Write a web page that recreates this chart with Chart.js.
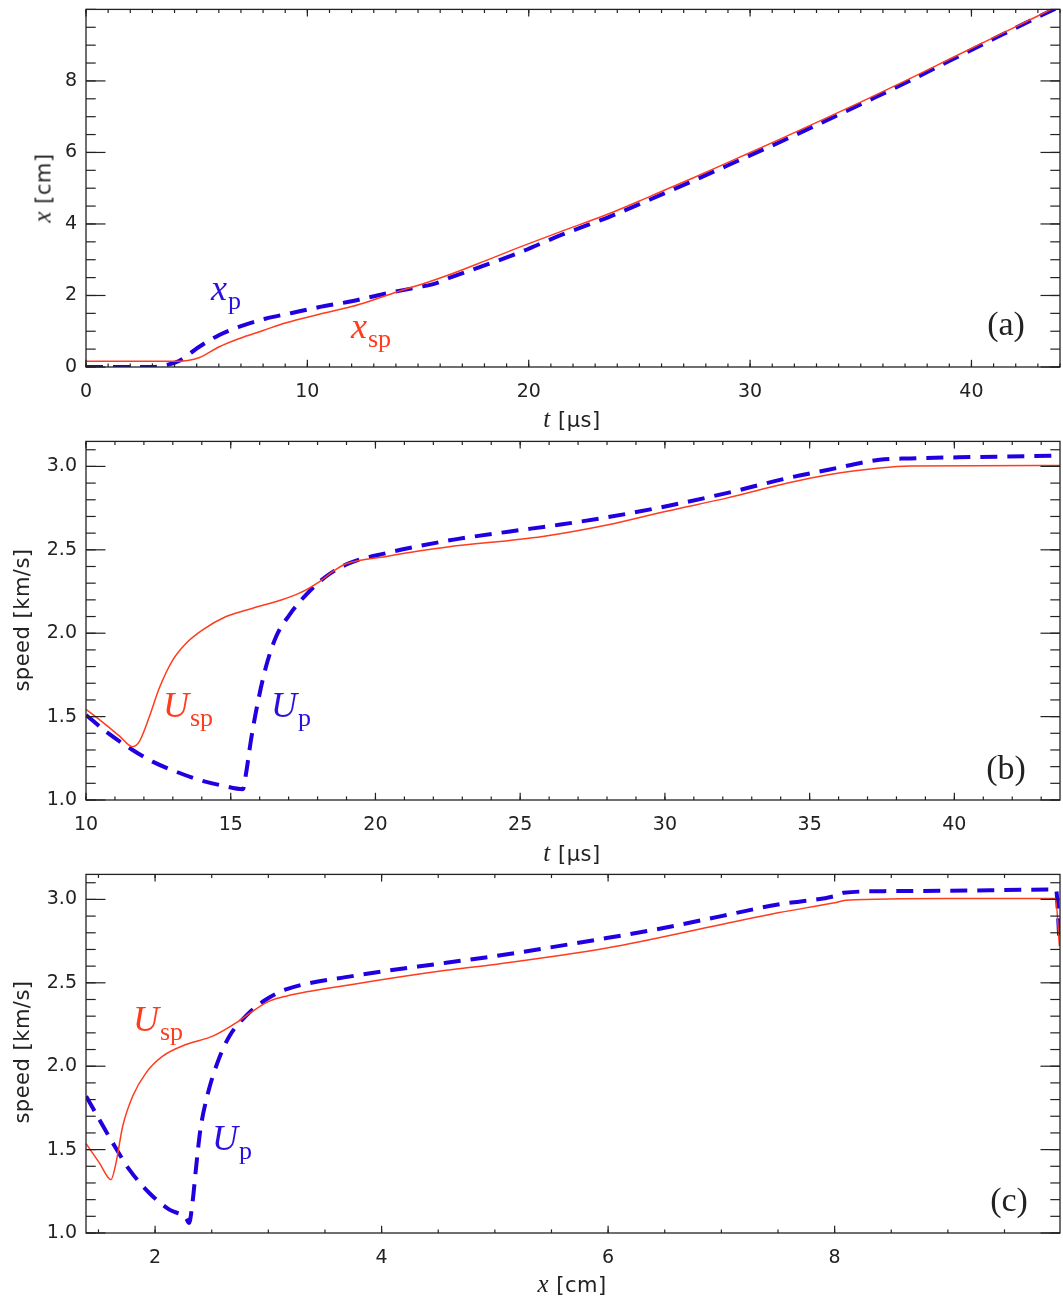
<!DOCTYPE html>
<html><head><meta charset="utf-8">
<script src="https://cdn.jsdelivr.net/npm/chart.js@4/dist/chart.umd.min.js"></script>
<style>
body{margin:0;background:#fff;}
#wrap{position:relative;width:1063px;height:1298px;overflow:hidden;background:#fff;}
canvas{position:absolute;left:0;}
.lab{position:absolute;white-space:nowrap;line-height:1;}
.ann{font-family:"Liberation Serif",serif;font-size:36px;}
.ann i{font-style:italic;}
.ann sub{font-size:26px;font-style:normal;vertical-align:baseline;position:relative;top:9px;margin-left:1px;}
.ttl{font-family:"DejaVu Sans",sans-serif;font-size:21px;letter-spacing:0.5px;color:#222;transform:translate(-50%,-50%);}
.ttl i{font-family:"Liberation Serif",serif;font-size:25px;}
.rot{transform:translate(-50%,-50%) rotate(-90deg);}
.pan{font-family:"Liberation Serif",serif;font-size:34px;color:#222;transform:translate(-50%,-50%);}
</style></head>
<body><div id="wrap">
<canvas id="ca" width="1063" height="443" style="top:-11px"></canvas>
<canvas id="cb" width="1063" height="444" style="top:421px"></canvas>
<canvas id="cc" width="1063" height="444" style="top:854px"></canvas>

<div class="lab ttl" style="left:572px;top:418px"><i>t</i> [μs]</div>
<div class="lab ttl" style="left:572px;top:852px"><i>t</i> [μs]</div>
<div class="lab ttl" style="left:572px;top:1283px"><i>x</i> [cm]</div>
<div class="lab ttl rot" style="left:42px;top:188px"><i>x</i> [cm]</div>
<div class="lab ttl rot" style="left:22px;top:620px">speed [km/s]</div>
<div class="lab ttl rot" style="left:22px;top:1052px">speed [km/s]</div>

<div class="lab pan" style="left:1006px;top:324px">(a)</div>
<div class="lab pan" style="left:1006px;top:768px">(b)</div>
<div class="lab pan" style="left:1009px;top:1200px">(c)</div>

<div class="lab ann" style="left:211px;top:270px;color:#2a10e0"><i>x</i><sub>p</sub></div>
<div class="lab ann" style="left:351px;top:308px;color:#ff3c1e"><i>x</i><sub>sp</sub></div>
<div class="lab ann" style="left:163px;top:687px;color:#ff3c1e"><i>U</i><sub>sp</sub></div>
<div class="lab ann" style="left:271px;top:687px;color:#2a10e0"><i>U</i><sub>p</sub></div>
<div class="lab ann" style="left:133px;top:1001px;color:#ff3c1e"><i>U</i><sub>sp</sub></div>
<div class="lab ann" style="left:212px;top:1120px;color:#2a10e0"><i>U</i><sub>p</sub></div>
</div>
<script>
// ---------- Panel (a): position vs time ----------
const tA_sp = [0, 4.2, 4.6, 5.1, 6.0, 6.9, 8.0, 9.0, 10.5, 12.0, 12.9, 14.0, 15.3, 16.5, 18.0, 19.5, 21.5, 23.56, 25.51, 27.47, 29.43, 31.38, 33.33, 35.21, 37.17, 39.04, 40.92, 42.88, 44.0];
const xA_sp = [0.16, 0.16, 0.18, 0.26, 0.56, 0.79, 1.02, 1.23, 1.47, 1.69, 1.86, 2.09, 2.34, 2.60, 2.96, 3.33, 3.80, 4.27, 4.78, 5.30, 5.84, 6.38, 6.93, 7.47, 8.05, 8.62, 9.19, 9.78, 10.12];
const tA_p = [0, 3.0, 3.6, 4.2, 5.1, 6.0, 6.9, 8.1, 9.3, 10.5, 12.0, 13.5, 15.0, 15.8, 16.5, 18.0, 19.5, 21.5, 23.56, 25.51, 27.47, 29.43, 31.38, 33.33, 35.21, 37.17, 39.04, 40.92, 42.88, 44.0];
const xA_p = [0, 0, 0.05, 0.17, 0.56, 0.89, 1.12, 1.35, 1.51, 1.67, 1.84, 2.05, 2.23, 2.34, 2.51, 2.84, 3.18, 3.70, 4.18, 4.69, 5.22, 5.76, 6.30, 6.86, 7.41, 7.99, 8.57, 9.15, 9.75, 10.08];
const xTicksA = [0, 10, 20, 30, 40];
const xLabelsA = ['0', '10', '20', '30', '40'];
const yTicksA = [0, 2, 4, 6, 8];
const yLabelsA = ['0', '2', '4', '6', '8'];

// ---------- Panel (b): speed vs time ----------
const tB_sp = [10, 10.69, 11.15, 11.61, 11.84, 12.19, 12.53, 13.0, 13.46, 14.03, 14.84, 15.76, 16.68, 17.37, 18.07, 18.53, 18.99, 20.37, 21.55, 22.44, 25.78, 28.04, 30.01, 32.13, 34.24, 35.65, 37.42, 38.48, 43.65];
const uB_sp = [1.544, 1.45, 1.384, 1.32, 1.35, 1.50, 1.67, 1.84, 1.94, 2.02, 2.10, 2.15, 2.196, 2.24, 2.31, 2.37, 2.416, 2.46, 2.494, 2.516, 2.58, 2.65, 2.73, 2.81, 2.90, 2.95, 2.99, 3.002, 3.006];
const tB_p = [10, 10.69, 11.61, 12.30, 13.11, 13.92, 14.72, 15.42, 15.53, 15.70, 15.93, 16.22, 16.57, 17.03, 17.60, 18.29, 19.10, 20.37, 21.55, 22.81, 24.65, 26.34, 28.04, 30.01, 32.13, 34.24, 35.65, 37.42, 38.48, 40.6, 43.65];
const uB_p = [1.51, 1.41, 1.30, 1.23, 1.17, 1.12, 1.086, 1.065, 1.16, 1.36, 1.58, 1.80, 1.98, 2.11, 2.23, 2.34, 2.42, 2.48, 2.524, 2.564, 2.61, 2.65, 2.696, 2.76, 2.84, 2.93, 2.98, 3.04, 3.048, 3.056, 3.064];
const xTicksB = [10, 15, 20, 25, 30, 35, 40];
const xLabelsB = ['10', '15', '20', '25', '30', '35', '40'];
const yTicksB = [1.0, 1.5, 2.0, 2.5, 3.0];
const yLabelsB = ['1.0', '1.5', '2.0', '2.5', '3.0'];

// ---------- Panel (c): speed vs position ----------
const xC_sp = [1.391, 1.508, 1.611, 1.655, 1.714, 1.802, 1.920, 2.067, 2.273, 2.509, 2.715, 2.862, 3.009, 3.156, 3.74, 4.57, 5.0, 6.0, 7.0, 7.5, 8.0, 8.1, 9.0, 9.95, 9.985];
const uC_sp = [1.536, 1.42, 1.32, 1.42, 1.64, 1.82, 1.96, 2.06, 2.13, 2.18, 2.26, 2.33, 2.39, 2.42, 2.49, 2.575, 2.61, 2.71, 2.85, 2.92, 2.98, 2.995, 3.005, 3.005, 2.72];
const xC_p = [1.391, 1.508, 1.626, 1.773, 1.949, 2.126, 2.273, 2.30, 2.33, 2.36, 2.40, 2.46, 2.55, 2.656, 2.80, 2.98, 3.156, 3.74, 4.57, 5.0, 6.0, 6.5, 7.0, 7.5, 8.0, 8.08, 8.5, 9.0, 9.5, 9.955, 9.985];
const uC_p = [1.82, 1.68, 1.54, 1.38, 1.24, 1.14, 1.09, 1.06, 1.18, 1.38, 1.62, 1.82, 2.02, 2.18, 2.30, 2.40, 2.46, 2.54, 2.62, 2.66, 2.77, 2.83, 2.90, 2.97, 3.02, 3.04, 3.05, 3.052, 3.056, 3.06, 2.75];
const xTicksC = [2, 4, 6, 8];
const xLabelsC = ['2', '4', '6', '8'];
const yTicksC = [1.0, 1.5, 2.0, 2.5, 3.0];
const yLabelsC = ['1.0', '1.5', '2.0', '2.5', '3.0'];

const RED = '#ff3c1e';
const BLUE = '#2000e0';
const AXIS = '#222';

function pts(xs, ys) { return xs.map((x, i) => ({x: x, y: ys[i]})); }

const framePlugin = {
  id: 'frame',
  afterDatasetsDraw(chart) {
    const c = chart.options.plugins.frame;
    const {ctx, chartArea: a} = chart;
    const xs = chart.scales.x, ys = chart.scales.y;
    ctx.save();
    ctx.strokeStyle = AXIS;
    ctx.lineWidth = 1.3;
    ctx.strokeRect(a.left, a.top, a.right - a.left, a.bottom - a.top);
    ctx.lineWidth = 1.2;
    const seg = (x1, y1, x2, y2) => { ctx.beginPath(); ctx.moveTo(x1, y1); ctx.lineTo(x2, y2); ctx.stroke(); };
    const steps = (min, max, st) => { const out = []; for (let k = Math.ceil(min / st - 1e-9); k * st <= max + 1e-9; k++) out.push(k * st); return out; };
    const xTick = (v, len) => { const p = xs.getPixelForValue(v); seg(p, a.bottom, p, a.bottom - len); seg(p, a.top, p, a.top + len); };
    const yTick = (v, len) => { const p = ys.getPixelForValue(v); seg(a.left, p, a.left + len, p); seg(a.right, p, a.right - len, p); };
    steps(xs.min, xs.max, c.xMinor).forEach(v => xTick(v, 3.6));
    c.xMajor.forEach(v => xTick(v, 7.2));
    steps(ys.min, ys.max, c.yMinor).forEach(v => yTick(v, 9.7));
    c.yMajor.forEach(v => yTick(v, 19.5));
    ctx.restore();
  }
};

function makeChart(id, o) {
  const tickFont = {family: 'DejaVu Sans', size: 19};
  return new Chart(document.getElementById(id), {
    type: 'line',
    data: {datasets: [
      {data: pts(o.rx, o.ry), borderColor: RED, borderWidth: 1.5, pointRadius: 0, fill: false, cubicInterpolationMode: 'monotone'},
      {data: pts(o.bx, o.by), borderColor: BLUE, borderWidth: 4, borderDash: [17, 10], pointRadius: 0, fill: false, cubicInterpolationMode: 'monotone'}
    ]},
    options: {
      responsive: false, animation: false, devicePixelRatio: 1,
      layout: {padding: {top: o.padTop, right: 3, left: 0, bottom: 0}},
      plugins: {legend: {display: false}, tooltip: {enabled: false},
        frame: {xMajor: o.xTicks, yMajor: o.yTicks, xMinor: o.xMinor, yMinor: o.yMinor}},
      scales: {
        x: {type: 'linear', position: 'bottom', min: o.xmin, max: o.xmax,
          grid: {display: false, drawTicks: false}, border: {display: false},
          ticks: {autoSkip: false, maxRotation: 0, padding: 14, font: tickFont, color: AXIS,
            callback: (v, i) => o.xLabels[i]},
          afterBuildTicks: s => { s.ticks = o.xTicks.map(v => ({value: v})); },
          afterFit: s => { s.height = o.xAxisH; }},
        y: {type: 'linear', position: 'left', min: o.ymin, max: o.ymax,
          grid: {display: false, drawTicks: false}, border: {display: false},
          ticks: {autoSkip: false, padding: 9, font: tickFont, color: AXIS,
            callback: (v, i) => o.yLabels[i]},
          afterBuildTicks: s => { s.ticks = o.yTicks.map(v => ({value: v})); },
          afterFit: s => { s.width = 86; }}
      }
    },
    plugins: [framePlugin]
  });
}

makeChart('ca', {rx: tA_sp, ry: xA_sp, bx: tA_p, by: xA_p, xmin: 0, xmax: 44.0, ymin: 0, ymax: 10,
  xTicks: xTicksA, xLabels: xLabelsA, yTicks: yTicksA, yLabels: yLabelsA, xMinor: 1, yMinor: 0.5, padTop: 8, xAxisH: 65});
makeChart('cb', {rx: tB_sp, ry: uB_sp, bx: tB_p, by: uB_p, xmin: 10, xmax: 43.65, ymin: 1.0, ymax: 3.15,
  xTicks: xTicksB, xLabels: xLabelsB, yTicks: yTicksB, yLabels: yLabelsB, xMinor: 1, yMinor: 0.1, padTop: 10, xAxisH: 65});
makeChart('cc', {rx: xC_sp, ry: uC_sp, bx: xC_p, by: uC_p, xmin: 1.39, xmax: 9.99, ymin: 1.0, ymax: 3.15,
  xTicks: xTicksC, xLabels: xLabelsC, yTicks: yTicksC, yLabels: yLabelsC, xMinor: 0.5, yMinor: 0.1, padTop: 10, xAxisH: 65});
</script>
</body></html>
